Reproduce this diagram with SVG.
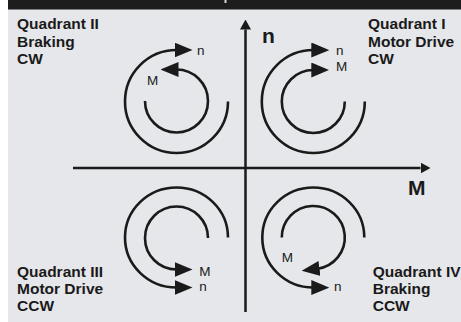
<svg xmlns="http://www.w3.org/2000/svg" width="461" height="322" viewBox="0 0 461 322">
  <style>
    .panel { fill: #e6e7ea; }
    .bar { fill: #1d1d1d; }
    .axis { fill: none; stroke: #1a1a1a; stroke-width: 2.5; }
    .arc { fill: none; stroke: #1a1a1a; stroke-width: 2.6; }
    .quad { font-family: "Liberation Sans", Arial, sans-serif; font-weight: bold; font-size: 15.5px; fill: #1a1a1a; }
    .axlabel { font-family: "Liberation Sans", Arial, sans-serif; font-weight: bold; font-size: 21px; fill: #1a1a1a; }
    .small { font-family: "Liberation Sans", Arial, sans-serif; font-size: 13.5px; fill: #1a1a1a; }
  </style>
  <defs>
    <marker id="head" viewBox="0 0 18 15" refX="2" refY="7.5" markerWidth="18" markerHeight="15" markerUnits="userSpaceOnUse" orient="auto">
      <path d="M0,0 L18,7.5 L0,15 Z" fill="#1a1a1a"/>
    </marker>
    <marker id="axhead" viewBox="0 0 10 11" refX="0" refY="5.5" markerWidth="10" markerHeight="11" markerUnits="userSpaceOnUse" orient="auto">
      <path d="M0,0 L10,5.5 L0,11 Z" fill="#1a1a1a"/>
    </marker>
  </defs>

  <!-- background panel and title bar -->
  <rect class="panel" x="8" y="0" width="453" height="322"/>
  <rect class="bar" x="8" y="0" width="453" height="9.5"/>
  <rect x="224.5" y="0" width="2" height="3" fill="#d8d8d8"/>

  <!-- torque / speed axes -->
  <g id="axes">
    <path class="axis" d="M245.5,312 V29.5" marker-end="url(#axhead)"/>
    <path class="axis" d="M73,168 H420.5" marker-end="url(#axhead)"/>
    <text class="axlabel" x="262" y="43">n</text>
    <text class="axlabel" x="408" y="195">M</text>
  </g>

  <!-- Quadrant II: braking, clockwise -->
  <g id="quadrant-2">
    <text class="quad" x="17" y="29">Quadrant II</text>
    <text class="quad" x="17" y="46.5">Braking</text>
    <text class="quad" x="17" y="64">CW</text>
    <path class="arc" d="M228,101.5 A51.5,51.5 0 1 1 176.5,50" marker-end="url(#head)"/>
    <path class="arc" d="M145,101 A31.5,31.5 0 1 0 176.5,69.5" marker-end="url(#head)"/>
    <text class="small" x="197" y="55">n</text>
    <text class="small" x="147" y="85">M</text>
  </g>

  <!-- Quadrant I: motor drive, clockwise -->
  <g id="quadrant-1">
    <text class="quad" x="368" y="29">Quadrant I</text>
    <text class="quad" x="368" y="46.5">Motor Drive</text>
    <text class="quad" x="368" y="64">CW</text>
    <path class="arc" d="M364.8,101.5 A51.5,51.5 0 1 1 313.3,50" marker-end="url(#head)"/>
    <path class="arc" d="M344.8,101.5 A31.5,31.5 0 1 1 313.3,70" marker-end="url(#head)"/>
    <text class="small" x="336" y="55">n</text>
    <text class="small" x="336" y="71">M</text>
  </g>

  <!-- Quadrant III: motor drive, counter-clockwise -->
  <g id="quadrant-3">
    <text class="quad" x="17" y="277">Quadrant III</text>
    <text class="quad" x="17" y="294">Motor Drive</text>
    <text class="quad" x="17" y="311">CCW</text>
    <path class="arc" d="M228,237.5 A51.5,50 0 1 0 176.5,287.5" marker-end="url(#head)"/>
    <path class="arc" d="M208,238 A31.5,31.5 0 1 0 176.5,269.5" marker-end="url(#head)"/>
    <text class="small" x="199.3" y="275.7">M</text>
    <text class="small" x="199.3" y="291">n</text>
  </g>

  <!-- Quadrant IV: braking, counter-clockwise -->
  <g id="quadrant-4">
    <text class="quad" x="372.7" y="277">Quadrant IV</text>
    <text class="quad" x="372.7" y="294">Braking</text>
    <text class="quad" x="372.7" y="311">CCW</text>
    <path class="arc" d="M364.3,237.5 A51,50 0 1 0 313.3,287.5" marker-end="url(#head)"/>
    <path class="arc" d="M281.8,237.5 A31.5,31.5 0 1 1 317.5,268.7" marker-end="url(#head)"/>
    <text class="small" x="281.7" y="261.7">M</text>
    <text class="small" x="334" y="291">n</text>
  </g>
</svg>
